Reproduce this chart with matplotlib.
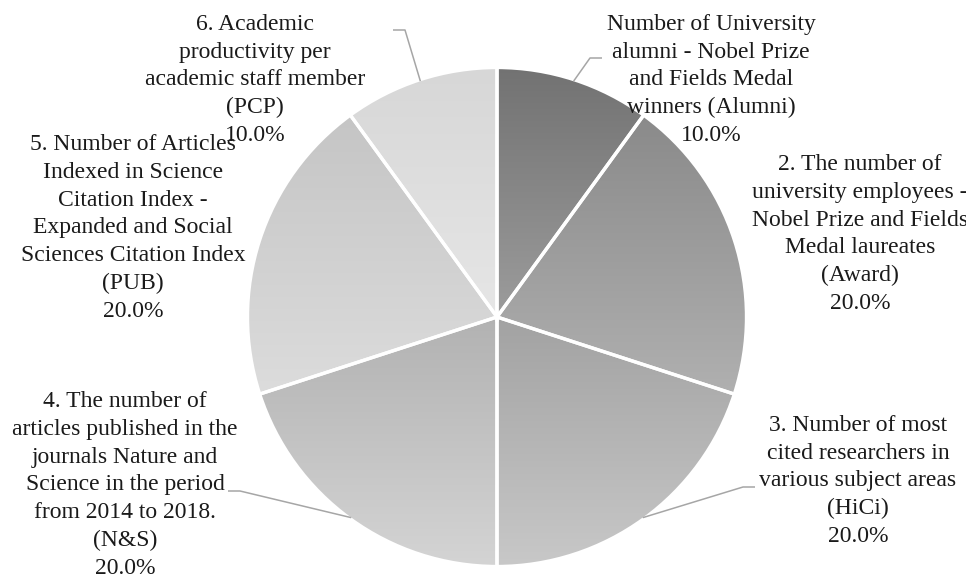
import numpy as np
import matplotlib
matplotlib.use("Agg")
import matplotlib.pyplot as plt
from matplotlib.colors import to_rgb

# ---- data ----
categories = [
    "Number of University\nalumni - Nobel Prize\nand Fields Medal\nwinners (Alumni)",
    "2. The number of\nuniversity employees -\nNobel Prize and Fields\nMedal laureates\n(Award)",
    "3. Number of most\ncited researchers in\nvarious subject areas\n(HiCi)",
    "4. The number of\narticles published in the\njournals Nature and\nScience in the period\nfrom 2014 to 2018.\n(N&S)",
    "5. Number of Articles\nIndexed in Science\nCitation Index -\nExpanded and Social\nSciences Citation Index\n(PUB)",
    "6. Academic\nproductivity per\nacademic staff member\n(PCP)",
]
shares = [10.0, 20.0, 20.0, 20.0, 20.0, 10.0]

# gradient colours (top, bottom) per slice
top_colors = ["#727272", "#8a8a8a", "#a2a2a2", "#b2b2b2", "#c5c5c5", "#d7d7d7"]
bottom_colors = ["#9c9c9c", "#b0b0b0", "#c8c8c8", "#d4d4d4", "#dcdcdc", "#e6e6e6"]

# ---- layout (pixel coordinates, y measured from top) ----
W, H = 966, 574
CX, CY, R = 497, 317, 249.5
label_centers = [(711, 80), (860, 234), (858, 481), (125, 485), (133, 228), (255, 80)]
elbows = [((590, 58), (602, 58)), None, ((743, 487), (755, 487)),
          ((240, 491), (228, 491)), None, ((405, 30), (393, 30))]

fig = plt.figure(figsize=(W / 100, H / 100), dpi=100)
ax = fig.add_axes([0, 0, 1, 1])

wedges, _ = ax.pie(shares, center=(CX, H - CY), radius=R, startangle=90,
                   counterclock=False, frame=True,
                   wedgeprops=dict(facecolor="none", edgecolor="white",
                                   linewidth=2.4, zorder=3))

for w, c0, c1 in zip(wedges, top_colors, bottom_colors):
    bb = w.get_path().get_extents()
    t = np.linspace(0, 1, 256)[:, None, None]
    grad = (1 - t) * np.array(to_rgb(c0)) + t * np.array(to_rgb(c1))
    im = ax.imshow(grad, extent=[bb.x0, bb.x1, bb.y0, bb.y1], origin="upper",
                   aspect="auto", interpolation="bilinear", zorder=1)
    im.set_clip_path(w)

# labels and leader lines
for i, (w, lab, val) in enumerate(zip(wedges, categories, shares)):
    lx, ly = label_centers[i]
    ax.text(lx, H - ly, f"{lab}\n{val:.1f}%", ha="center", va="center",
            multialignment="center", family="Liberation Serif", fontsize=17,
            color="#1a1a1a", linespacing=1.42, zorder=5)
    if elbows[i] is not None:
        mid = np.deg2rad((w.theta1 + w.theta2) / 2)
        sx, sy = CX + (R - 1.5) * np.cos(mid), (H - CY) + (R - 1.5) * np.sin(mid)
        (ex, ey), (fx, fy) = elbows[i]
        ax.plot([sx, ex, fx], [sy, H - ey, H - fy], color="#a6a6a6",
                lw=1.1, zorder=4, solid_capstyle="butt")

ax.set_xlim(0, W)
ax.set_ylim(0, H)
ax.set_aspect("equal")
ax.axis("off")
fig.savefig("out.png", dpi=100, facecolor="white")
